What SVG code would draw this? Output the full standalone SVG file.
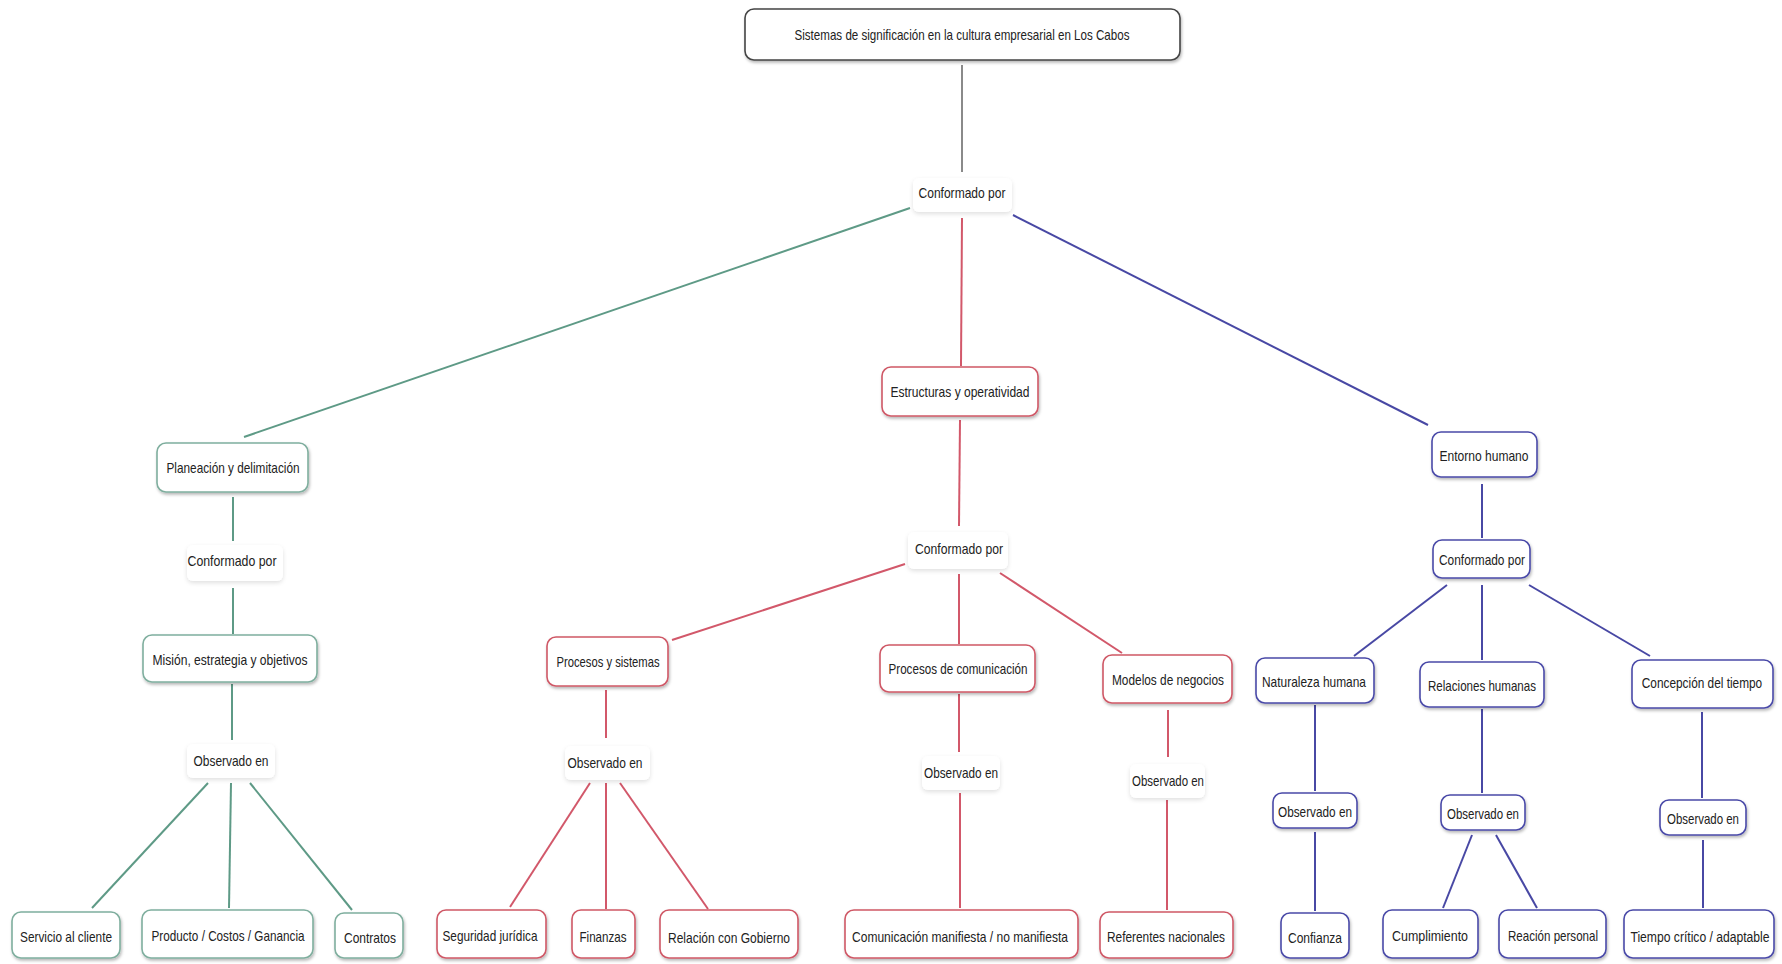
<svg xmlns="http://www.w3.org/2000/svg" width="1782" height="964" viewBox="0 0 1782 964">
<defs>
<filter id="sh" x="-20%" y="-30%" width="140%" height="170%">
<feDropShadow dx="1" dy="2" stdDeviation="1.6" flood-color="#000" flood-opacity="0.28"/>
</filter>
<filter id="shl" x="-20%" y="-30%" width="140%" height="170%">
<feDropShadow dx="0" dy="2" stdDeviation="2" flood-color="#000" flood-opacity="0.12"/>
</filter>
</defs>
<style>
text{font-family:"Liberation Sans","DejaVu Sans",sans-serif;font-size:15px;fill:#222;text-anchor:middle;dominant-baseline:central}
.n rect{fill:#fff;stroke-width:1.6;filter:url(#sh)}
.l rect{fill:#fff;stroke:none;filter:url(#shl)}
.g rect{stroke:#7fae9e}
.r rect{stroke:#cf5866}
.b rect{stroke:#4a4aa8}
.k rect{stroke:#444}
.lb rect{fill:#fff;stroke:#4a4aa8;stroke-width:1.6;filter:url(#sh)}
#connectors line{stroke-width:2;fill:none}
.cg{stroke:#5e9a86}
.cr{stroke:#d2586a}
.cb{stroke:#4848a4}
.ck{stroke:#8a8a8a}
</style>
<rect width="1782" height="964" fill="#fff"/>
<g id="connectors">
<line class="ck" x1="962" y1="65" x2="962" y2="172"/>
<line class="cg" x1="910" y1="208" x2="244" y2="437"/>
<line class="cg" x1="233" y1="497" x2="233" y2="541"/>
<line class="cg" x1="233" y1="588" x2="233" y2="634"/>
<line class="cg" x1="232" y1="684" x2="232" y2="740"/>
<line class="cg" x1="208" y1="783" x2="92" y2="908"/>
<line class="cg" x1="231" y1="783" x2="229" y2="908"/>
<line class="cg" x1="250" y1="783" x2="352" y2="910"/>
<line class="cr" x1="962" y1="218" x2="961" y2="366"/>
<line class="cr" x1="960" y1="420" x2="959" y2="526"/>
<line class="cr" x1="905" y1="564" x2="672" y2="640"/>
<line class="cr" x1="959" y1="574" x2="959" y2="644"/>
<line class="cr" x1="1000" y1="573" x2="1122" y2="653"/>
<line class="cr" x1="606" y1="690" x2="606" y2="738"/>
<line class="cr" x1="590" y1="783" x2="510" y2="907"/>
<line class="cr" x1="606" y1="783" x2="606" y2="909"/>
<line class="cr" x1="620" y1="783" x2="708" y2="909"/>
<line class="cr" x1="959" y1="694" x2="959" y2="752"/>
<line class="cr" x1="960" y1="793" x2="960" y2="908"/>
<line class="cr" x1="1168" y1="710" x2="1168" y2="757"/>
<line class="cr" x1="1167" y1="800" x2="1167" y2="910"/>
<line class="cb" x1="1013" y1="215" x2="1428" y2="425"/>
<line class="cb" x1="1482" y1="484" x2="1482" y2="538"/>
<line class="cb" x1="1447" y1="585" x2="1354" y2="656"/>
<line class="cb" x1="1482" y1="585" x2="1482" y2="660"/>
<line class="cb" x1="1529" y1="585" x2="1650" y2="656"/>
<line class="cb" x1="1315" y1="705" x2="1315" y2="791"/>
<line class="cb" x1="1315" y1="832" x2="1315" y2="911"/>
<line class="cb" x1="1482" y1="709" x2="1482" y2="793"/>
<line class="cb" x1="1472" y1="835" x2="1443" y2="908"/>
<line class="cb" x1="1496" y1="835" x2="1537" y2="908"/>
<line class="cb" x1="1702" y1="712" x2="1702" y2="798"/>
<line class="cb" x1="1703" y1="840" x2="1703" y2="908"/>
</g>

<g id="title" class="n k"><rect x="745" y="9" width="435" height="51" rx="9"/><text x="962" y="34" textLength="335" lengthAdjust="spacingAndGlyphs">Sistemas de significación en la cultura empresarial en Los Cabos</text></g>
<g id="conf-top" class="l"><rect x="913" y="178" width="99" height="34" rx="6"/><text x="962" y="192" textLength="87" lengthAdjust="spacingAndGlyphs">Conformado por</text></g>

<g id="planeacion" class="n g"><rect x="157" y="443" width="151" height="49" rx="9"/><text x="233" y="467" textLength="133" lengthAdjust="spacingAndGlyphs">Planeación y delimitación</text></g>
<g id="conf-left" class="l"><rect x="187" y="545" width="96" height="36" rx="6"/><text x="232" y="560" textLength="89" lengthAdjust="spacingAndGlyphs">Conformado por</text></g>
<g id="mision" class="n g"><rect x="143" y="635" width="174" height="47" rx="9"/><text x="230" y="659" textLength="155" lengthAdjust="spacingAndGlyphs">Misión, estrategia y objetivos</text></g>
<g id="obs-left" class="l"><rect x="187" y="744" width="88" height="34" rx="6"/><text x="231" y="760" textLength="75" lengthAdjust="spacingAndGlyphs">Observado en</text></g>
<g id="servicio" class="n g"><rect x="12" y="912" width="108" height="46" rx="9"/><text x="66" y="936" textLength="92" lengthAdjust="spacingAndGlyphs">Servicio al cliente</text></g>
<g id="producto" class="n g"><rect x="142" y="910" width="171" height="48" rx="9"/><text x="228" y="935" textLength="153" lengthAdjust="spacingAndGlyphs">Producto / Costos / Ganancia</text></g>
<g id="contratos" class="n g"><rect x="335" y="913" width="68" height="45" rx="9"/><text x="370" y="937" textLength="52" lengthAdjust="spacingAndGlyphs">Contratos</text></g>

<g id="estructuras" class="n r"><rect x="882" y="367" width="156" height="49" rx="9"/><text x="960" y="391" textLength="139" lengthAdjust="spacingAndGlyphs">Estructuras y operatividad</text></g>
<g id="conf-mid" class="l"><rect x="908" y="532" width="100" height="37" rx="6"/><text x="959" y="548" textLength="88" lengthAdjust="spacingAndGlyphs">Conformado por</text></g>
<g id="procesos-sistemas" class="n r"><rect x="547" y="637" width="121" height="49" rx="9"/><text x="608" y="661" textLength="103" lengthAdjust="spacingAndGlyphs">Procesos y sistemas</text></g>
<g id="procesos-com" class="n r"><rect x="880" y="645" width="155" height="47" rx="9"/><text x="958" y="668" textLength="139" lengthAdjust="spacingAndGlyphs">Procesos de comunicación</text></g>
<g id="modelos" class="n r"><rect x="1103" y="655" width="129" height="48" rx="9"/><text x="1168" y="679" textLength="112" lengthAdjust="spacingAndGlyphs">Modelos de negocios</text></g>
<g id="obs-pys" class="l"><rect x="565" y="746" width="85" height="34" rx="6"/><text x="605" y="762" textLength="75" lengthAdjust="spacingAndGlyphs">Observado en</text></g>
<g id="obs-pdc" class="l"><rect x="922" y="756" width="78" height="34" rx="6"/><text x="961" y="772" textLength="74" lengthAdjust="spacingAndGlyphs">Observado en</text></g>
<g id="obs-mdn" class="l"><rect x="1130" y="764" width="75" height="34" rx="6"/><text x="1168" y="780" textLength="72" lengthAdjust="spacingAndGlyphs">Observado en</text></g>
<g id="seguridad" class="n r"><rect x="437" y="910" width="109" height="48" rx="9"/><text x="490" y="935" textLength="95" lengthAdjust="spacingAndGlyphs">Seguridad jurídica</text></g>
<g id="finanzas" class="n r"><rect x="572" y="910" width="63" height="48" rx="9"/><text x="603" y="936" textLength="47" lengthAdjust="spacingAndGlyphs">Finanzas</text></g>
<g id="relacion-gobierno" class="n r"><rect x="660" y="910" width="138" height="48" rx="9"/><text x="729" y="937" textLength="122" lengthAdjust="spacingAndGlyphs">Relación con Gobierno</text></g>
<g id="comunicacion" class="n r"><rect x="845" y="910" width="233" height="48" rx="9"/><text x="960" y="936" textLength="216" lengthAdjust="spacingAndGlyphs">Comunicación manifiesta / no manifiesta</text></g>
<g id="referentes" class="n r"><rect x="1100" y="912" width="133" height="46" rx="9"/><text x="1166" y="936" textLength="118" lengthAdjust="spacingAndGlyphs">Referentes nacionales</text></g>

<g id="entorno" class="n b"><rect x="1432" y="432" width="105" height="45" rx="9"/><text x="1484" y="455" textLength="89" lengthAdjust="spacingAndGlyphs">Entorno humano</text></g>
<g id="conf-blue" class="lb"><rect x="1433" y="540" width="97" height="38" rx="9"/><text x="1482" y="559" textLength="86" lengthAdjust="spacingAndGlyphs">Conformado por</text></g>
<g id="naturaleza" class="n b"><rect x="1256" y="658" width="118" height="45" rx="9"/><text x="1314" y="681" textLength="104" lengthAdjust="spacingAndGlyphs">Naturaleza humana</text></g>
<g id="relaciones" class="n b"><rect x="1420" y="662" width="124" height="45" rx="9"/><text x="1482" y="685" textLength="108" lengthAdjust="spacingAndGlyphs">Relaciones humanas</text></g>
<g id="concepcion" class="n b"><rect x="1632" y="660" width="141" height="48" rx="9"/><text transform="translate(1702,683) scale(0.79,1)" x="0" y="0">Concepción del tiempo</text></g>
<g id="obs-nat" class="lb"><rect x="1273" y="793" width="84" height="35" rx="9"/><text x="1315" y="811" textLength="74" lengthAdjust="spacingAndGlyphs">Observado en</text></g>
<g id="obs-rel" class="lb"><rect x="1441" y="795" width="84" height="35" rx="9"/><text x="1483" y="813" textLength="72" lengthAdjust="spacingAndGlyphs">Observado en</text></g>
<g id="obs-conc" class="lb"><rect x="1660" y="800" width="86" height="35" rx="9"/><text x="1703" y="818" textLength="72" lengthAdjust="spacingAndGlyphs">Observado en</text></g>
<g id="confianza" class="n b"><rect x="1281" y="913" width="68" height="45" rx="9"/><text x="1315" y="937" textLength="54" lengthAdjust="spacingAndGlyphs">Confianza</text></g>
<g id="cumplimiento" class="n b"><rect x="1383" y="910" width="95" height="48" rx="9"/><text x="1430" y="935" textLength="76" lengthAdjust="spacingAndGlyphs">Cumplimiento</text></g>
<g id="reacion" class="n b"><rect x="1499" y="910" width="107" height="48" rx="9"/><text x="1553" y="935" textLength="90" lengthAdjust="spacingAndGlyphs">Reación personal</text></g>
<g id="tiempo" class="n b"><rect x="1624" y="910" width="150" height="48" rx="9"/><text transform="translate(1700,937) scale(0.81,1)" x="0" y="0">Tiempo crítico / adaptable</text></g>
</svg>
